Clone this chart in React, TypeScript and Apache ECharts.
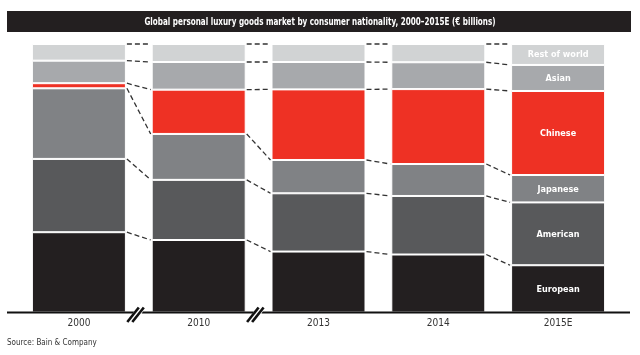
import React, { useEffect, useRef } from "react";
import * as echarts from "echarts";

const categories = ["2000", "2010", "2013", "2014", "2015E"];
const seriesNames = ["European", "American", "Japanese", "Chinese", "Asian", "Rest of world"];
const european = [29.9, 27.0, 22.7, 21.6, 17.6];
const american = [27.3, 22.4, 21.7, 21.8, 23.4];
const japanese = [26.3, 17.1, 12.4, 11.9, 10.2];
const chinese = [1.9, 16.5, 26.3, 27.9, 31.3];
const asian = [8.4, 10.3, 10.2, 10.0, 9.7];
const restOfWorld = [6.2, 6.7, 6.7, 6.8, 7.8];
const seriesValues = [european, american, japanese, chinese, asian, restOfWorld];
const colors = ["#231f20", "#58595b", "#808285", "#ee3124", "#a7a9ac", "#d1d3d4"];
const titleText = "Global personal luxury goods market by consumer nationality, 2000\u20132015E (\u20ac billions)";
const sourceText = "Source: Bain & Company";
const breaksAfter = [0, 1];

const FONT = "'DejaVu Sans Condensed', 'Liberation Sans Narrow', 'Liberation Sans', sans-serif";
const BAR_W = 94;

export default function App() {
  const ref = useRef<HTMLDivElement>(null);
  useEffect(() => {
    if (!ref.current) return;
    const chart = echarts.init(ref.current, null, { renderer: "svg" });
    const last = categories.length - 1;
    const cumulative = (i: number) => {
      const out: number[] = [];
      let s = 0;
      for (const arr of seriesValues) {
        s += arr[i];
        out.push(s);
      }
      return out;
    };
    const bars = seriesNames.map((name, k) => ({
      type: "bar",
      name,
      stack: "total",
      barWidth: BAR_W,
      itemStyle: { color: colors[k], borderColor: "#ffffff", borderWidth: 1 },
      label: {
        show: false,
        position: "inside",
        formatter: "{a}",
        color: "#ffffff",
        fontWeight: "bold",
        fontSize: 9,
        fontFamily: FONT,
      },
      data: seriesValues[k].map((v, i) => (i === last ? { value: v, label: { show: true } } : v)),
    }));
    const connectors = {
      type: "custom",
      coordinateSystem: "cartesian2d",
      clip: false,
      silent: true,
      z: 5,
      data: categories.slice(0, last).map((_, i) => [i, 0]),
      encode: { x: 0, y: 1 },
      renderItem: (params: any, api: any) => {
        const i = api.value(0);
        const a = cumulative(i);
        const b = cumulative(i + 1);
        const children: any[] = [];
        for (let k = 0; k < a.length; k++) {
          const p1 = api.coord([i, a[k]]);
          const p2 = api.coord([i + 1, b[k]]);
          children.push({
            type: "line",
            shape: { x1: p1[0] + BAR_W / 2 + 1, y1: p1[1], x2: p2[0] - BAR_W / 2 - 1, y2: p2[1] },
            style: { stroke: "#333333", lineWidth: 1.3, lineDash: [5, 3] },
          });
        }
        return { type: "group", children };
      },
    };
    chart.setOption({
      animation: false,
      grid: { left: 19, right: 22, top: 44, bottom: 42.5 },
      xAxis: {
        type: "category",
        data: categories,
        axisLine: { show: false },
        axisTick: { show: false },
        axisLabel: { color: "#333333", fontSize: 10, fontFamily: FONT, margin: 5 },
      },
      yAxis: { type: "value", min: 0, max: 100, show: false, splitLine: { show: false } },
      series: [...bars, connectors],
    });
    const y0 = chart.convertToPixel({ yAxisIndex: 0 }, 0) as number;
    const breakMarks: any[] = [];
    for (const i of breaksAfter) {
      const xa = chart.convertToPixel({ xAxisIndex: 0 }, i) as number;
      const xb = chart.convertToPixel({ xAxisIndex: 0 }, i + 1) as number;
      const cx = (xa + xb) / 2 - 2;
      breakMarks.push(
        {
          type: "polygon",
          shape: { points: [[cx - 8, y0 + 9], [cx + 1, y0 + 9], [cx + 8, y0 - 5], [cx - 1, y0 - 5]] },
          style: { fill: "#ffffff" },
          z: 10,
        },
        {
          type: "line",
          shape: { x1: cx - 9.5, y1: y0 + 9.5, x2: cx + 2, y2: y0 - 5 },
          style: { stroke: "#111111", lineWidth: 2.6 },
          z: 11,
        },
        {
          type: "line",
          shape: { x1: cx - 4.5, y1: y0 + 9.5, x2: cx + 7, y2: y0 - 5 },
          style: { stroke: "#111111", lineWidth: 2.6 },
          z: 11,
        }
      );
    }
    chart.setOption({
      graphic: [
        { type: "rect", shape: { x: 7, y: 11, width: 624, height: 21 }, style: { fill: "#231f20" }, z: 1 },
        {
          type: "text",
          x: 320,
          y: 21.5,
          scaleX: 0.73,
          style: {
            text: titleText,
            fill: "#ffffff",
            fontSize: 11,
            fontWeight: "bold",
            fontFamily: FONT,
            align: "center",
            verticalAlign: "middle",
          },
          z: 2,
        },
        { type: "line", shape: { x1: 7, y1: y0, x2: 630, y2: y0 }, style: { stroke: "#111111", lineWidth: 2 }, z: 9 },
        ...breakMarks,
        {
          type: "text",
          x: 7,
          y: 342,
          style: { text: sourceText, fill: "#333333", fontSize: 8, fontFamily: FONT, verticalAlign: "middle" },
        },
      ],
    });
    return () => chart.dispose();
  }, []);
  return <div ref={ref} style={{ position: "fixed", left: 0, top: 0, width: 640, height: 355 }} />;
}
